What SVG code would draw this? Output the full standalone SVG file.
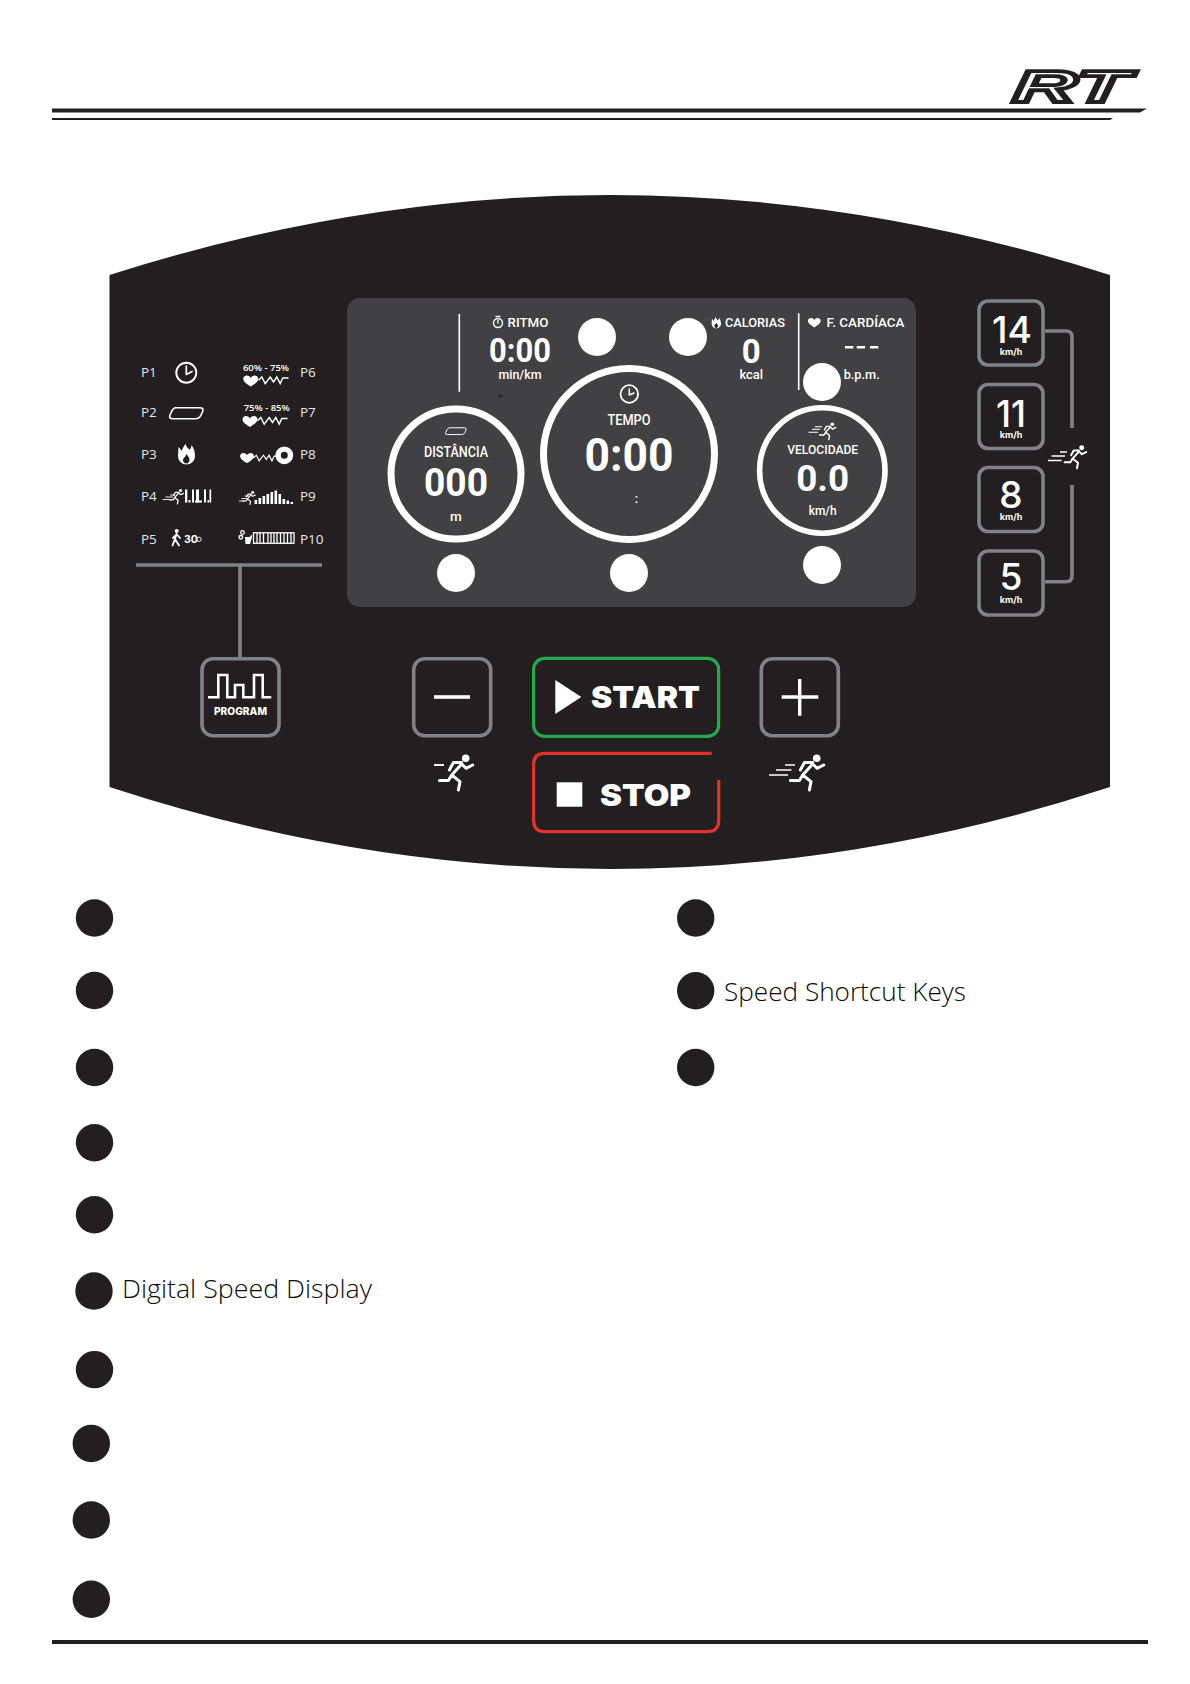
<svg xmlns="http://www.w3.org/2000/svg" width="1190" height="1684" viewBox="0 0 1190 1684">
<style>
text{font-family:"Roboto","Liberation Sans",sans-serif;fill:#fff;font-weight:500}
.m{text-anchor:middle}
.p{font-family:"Open Sans","Liberation Sans",sans-serif;font-size:13.5px;font-weight:400;fill:#e6e7e8}
.pc{font-family:"Open Sans","Liberation Sans",sans-serif;font-size:9.5px;font-weight:600;text-anchor:middle}
.lb{font-size:13.6px}
.un{font-size:13px}
.big{font-size:33px;font-weight:700}
.b{font-weight:700}
.g{font-family:"Inter","Liberation Sans",sans-serif}
.num{font-family:"Inter","Liberation Sans",sans-serif;font-size:37px;font-weight:500;text-anchor:middle}
.km{font-family:"Inter","Liberation Sans",sans-serif;font-size:9px;font-weight:700;text-anchor:middle}
.key{fill:#231f20;stroke:#808285;stroke-width:3.6}
.conn{fill:none;stroke:#808285;stroke-width:3.6}
.wl{fill:none;stroke:#fff;stroke-linecap:round;stroke-linejoin:round}
.ring{fill:none;stroke:#fff}
.badge{fill:#fff}
.bul{fill:#231f20}
.desc{font-family:"Open Sans","Liberation Sans",sans-serif;font-size:26.5px;font-weight:300;fill:#0c0a0b}
.ln{stroke:#fff;stroke-width:1.6}
.sp{stroke:#fff;fill:none}
.w{fill:#fff}
.d{fill:#231f20}
</style>
<defs>
<g id="runner" class="wl" stroke-width="3">
<circle cx="0" cy="0" r="3.8" fill="#fff" stroke="none"/>
<path d="M-16.3 11.7L-12.3 4.3H-4M-4 5.7L.3 10L7 6.7M-4 5.7L-14 16.7L-17.3 22.3H-26.3M-14 16.7L-5.7 23.3L-7.3 31.7"/>
</g>
<path id="heart" d="M0 5.5C-3 3.5-7.5 1-7.5-2C-7.5-4.5-5.5-5.5-4-5.5C-2-5.5-.8-4.5 0-3C.8-4.5 2-5.5 4-5.5C5.5-5.5 7.5-4.500 7.5-2C7.5 1 3 3.5 0 5.5Z" fill="#fff"/>
<g id="flame">
<path d="M-1-10.5C0-6 2-6 3-4C4-5 5-7 5-9C8-5 8.5-1 8.5 2C8.5 7 4 10.5 0 10.5C-4 10.5-8.5 7-8.5 2C-8.5-1-8-4-8-7C-6-5-5.5-4-5-3C-4-6-2-8-1-10.5Z" fill="#fff"/>
<path d="M0 0C1 2 3 3 3 6C3 8 1.5 9.5 0 9.5C-2 9.5-3.5 8-3.5 6C-3.5 4-1 3 0 0Z" fill="#231f20"/>
</g>
<path id="track" d="M7 .8H31Q35 .8 34 4.2L32 8.5Q30.5 11.7 27 11.7H4Q0 11.7 1 8.5L3 4.2Q4.5 .8 7 .8Z" fill="none" stroke="#fff" stroke-width="1.6"/>
<path id="pulse" d="M0 0L3.3-3.3L6.7 3.3L11.7-3.3L15 1.7L18.3-3.3L21.7 3.3L24.3-2.3H30" fill="none" stroke="#fff" stroke-width="1.4"/>
</defs>

<rect width="1190" height="1684" fill="#fff"/>

<g id="header">
<path d="M52 108.5H1147L1140 112.5H52Z" fill="#231f20"/>
<path d="M52 118H1113L1110 120H52Z" fill="#231f20"/>
<text transform="translate(1012 101.500) skewX(-6) scale(1.94 1)" font-size="45" style="font-family:'Liberation Sans',sans-serif;font-weight:700;font-style:italic;fill:#fff;stroke:#231f20;stroke-width:3.8">RT</text>
</g>

<path id="panel" d="M109.5 275Q610 115 1110 275V787Q610 951 109.5 787Z" fill="#231f20"/>

<g id="connectors">
<path class="conn" d="M136 565H322M240 565V657"/>
<path class="conn" d="M1045 331H1066Q1072 331 1072 337V428"/>
<path class="conn" d="M1072 485V575.7Q1072 581.7 1066 581.7H1045"/>
</g>

<g id="program-list">
<text class="p" x="141" y="377">P1</text>
<text class="p" x="141" y="417">P2</text>
<text class="p" x="141" y="459">P3</text>
<text class="p" x="141" y="501">P4</text>
<text class="p" x="141" y="544">P5</text>
<text class="p" x="300" y="377">P6</text>
<text class="p" x="300" y="417">P7</text>
<text class="p" x="300" y="459">P8</text>
<text class="p" x="300" y="501">P9</text>
<text class="p" x="300" y="544">P10</text>
<circle class="ring" cx="186.3" cy="372.7" r="10" stroke-width="1.9"/>
<path class="wl" stroke-width="1.7" d="M186.3 366V374.5L192 371.5"/>
<use href="#track" x="168.8" y="407"/>
<use href="#flame" transform="translate(186.5 454)"/>
<use href="#runner" transform="translate(180.500 490.500) scale(.42)"/>
<path class="sp" d="M170 495H175M165.500 497H173M162.500 499.500H170.500" stroke-width=".9"/>
<g class="w"><rect x="185" y="489.500" width="2.300" height="13"/><rect x="188.500" y="500" width="2" height="2.500"/><rect x="192" y="489.500" width="2" height="13"/><rect x="196" y="489.500" width="3" height="13"/><rect x="195" y="500.500" width="7" height="2"/><rect x="204" y="489.500" width="2" height="13"/><rect x="207.500" y="500" width="1.500" height="2.500"/><rect x="209.500" y="489.500" width="1.700" height="13"/></g>
<circle class="w" cx="176.700" cy="531" r="2"/>
<path class="wl" stroke-width="1.800" d="M176.500 534L175 539L172.500 545.500M175 539L179 545.500M176.500 534L180 538M176.500 534.500L173 538"/>
<text x="184" y="542.700" font-size="10.500" style="font-family:'Inter','Liberation Sans',sans-serif;font-weight:700">30</text>
<circle class="ring" cx="199" cy="539.300" r="2.200" stroke-width=".9"/>
<text class="pc" x="266" y="371">60% - 75%</text>
<use href="#heart" transform="translate(250.800 381)"/>
<use href="#pulse" x="258.500" y="380.300"/>
<text class="pc" x="266.700" y="411">75% - 85%</text>
<use href="#heart" transform="translate(250 421.500)"/>
<use href="#pulse" x="257.500" y="420.800"/>
<use href="#heart" transform="translate(247 458) scale(.92)"/>
<use href="#pulse" transform="translate(253.500 458) scale(.85)"/>
<circle class="ring" cx="284.300" cy="455.300" r="6.200" stroke-width="5.400"/>
<use href="#runner" transform="translate(252.700 492.500) scale(.38)"/>
<path class="sp" d="M244.500 496H249M241.500 498.500H246.500M239 501H244.500" stroke-width=".9"/>
<g class="w"><rect x="254.500" y="500" width="2.600" height="4"/><rect x="258.500" y="498" width="2.600" height="6"/><rect x="262.500" y="496" width="2.600" height="8"/><rect x="266.500" y="494" width="2.600" height="10"/><rect x="270.500" y="492" width="2.600" height="12"/><rect x="274.500" y="490.500" width="2.600" height="13.500"/><rect x="278.500" y="494" width="2.600" height="10"/><rect x="282.500" y="499" width="2.600" height="5"/><rect x="286.500" y="500.500" width="2.600" height="3.500"/><rect x="290.500" y="502" width="2.600" height="2"/></g>
<circle class="ring" cx="242.500" cy="532.500" r="1.800" stroke-width="1.300"/>
<circle class="ring" cx="240.800" cy="537.300" r="1.800" stroke-width="1.300"/>
<path class="w" d="M245 537H249.500L252 534.500V537L250 544H245.500Z"/>
<g class="sp" stroke-width="1.300"><rect x="253.500" y="532.800" width="40.500" height="10.500"/><path d="M257 533V543M260 533V543M263.500 533V543M268 533V543M271 533V543M274 533V543M277 533V543M280.500 533V543M284 533V543M287.500 533V543M291 533V543"/></g>
</g>

<g id="screen">
<rect x="347" y="298" width="569" height="309" rx="13" fill="#414042"/>
<path class="ln" d="M459.300 314V391.700M798.700 313.300V390"/>
<g id="ritmo">
<circle class="ring" cx="498" cy="323" r="4.500" stroke-width="1.400"/>
<path class="wl" stroke-width="1.300" d="M496 316.500H500M498 323V320"/>
<text class="lb" x="507.500" y="327.300" textLength="41" lengthAdjust="spacingAndGlyphs">RITMO</text>
<text class="big m" x="520" y="362.300" textLength="62" lengthAdjust="spacingAndGlyphs">0:00</text>
<text class="un m" x="520" y="379.300" textLength="43" lengthAdjust="spacingAndGlyphs">min/km</text>
<path d="M498 393.500L503 396.500L500 398Z" fill="#231f20"/>
</g>
<g id="calorias">
<use href="#flame" transform="translate(716.300 322.700) scale(.55)"/>
<text class="lb" x="725" y="327.300" textLength="60" lengthAdjust="spacingAndGlyphs">CALORIAS</text>
<text class="big m" x="751.300" y="362.700">0</text>
<text class="un m" x="751.300" y="379.300">kcal</text>
</g>
<g id="cardiaca">
<use href="#heart" transform="translate(814.300 322.800) scale(.85)"/>
<text class="lb" x="826.500" y="327.300" textLength="78" lengthAdjust="spacingAndGlyphs">F. CARDÍACA</text>
<path class="w" d="M845 346H853.300V348.500H845ZM856.700 346H865V348.500H856.700ZM870 346H878.300V348.500H870Z"/>
<text class="un" x="843.700" y="379.300" textLength="36" lengthAdjust="spacingAndGlyphs">b.p.m.</text>
</g>
<g id="distancia">
<circle class="ring" cx="456" cy="474" r="65" stroke-width="7"/>
<use href="#track" transform="translate(445 427.300) scale(.62)"/>
<text class="m" x="456" y="456.700" font-size="14" textLength="64" lengthAdjust="spacingAndGlyphs">DISTÂNCIA</text>
<text class="m b" x="456" y="495.700" font-size="39.500" textLength="64" lengthAdjust="spacingAndGlyphs">000</text>
<text class="m" x="456" y="520.700" font-size="13.500">m</text>
</g>
<g id="tempo">
<circle class="ring" cx="629" cy="454" r="85.500" stroke-width="7"/>
<circle class="ring" cx="629.300" cy="394" r="8.800" stroke-width="1.800"/>
<path class="wl" stroke-width="1.500" d="M629.300 389V395L634 393"/>
<text class="m" x="629" y="425" font-size="14" textLength="43" lengthAdjust="spacingAndGlyphs">TEMPO</text>
<text class="m b" x="629" y="471" font-size="47" textLength="89" lengthAdjust="spacingAndGlyphs">0:00</text>
<text class="m" x="636.500" y="503" font-size="13">:</text>
</g>
<g id="velocidade">
<circle class="ring" cx="822.300" cy="470.500" r="62.700" stroke-width="5.600"/>
<use href="#runner" transform="translate(832.300 424.300) scale(.48)"/>
<path class="sp" d="M815 426.700H822M812 429.300H820M808.500 432.300H818" stroke-width="1.100"/>
<text class="m" x="822.700" y="454" font-size="13.500" textLength="71" lengthAdjust="spacingAndGlyphs">VELOCIDADE</text>
<text class="m b" x="822.700" y="491" font-size="36.500" textLength="53" lengthAdjust="spacingAndGlyphs">0.0</text>
<text class="m" x="822.700" y="515" font-size="13.500" textLength="28" lengthAdjust="spacingAndGlyphs">km/h</text>
</g>
</g>

<g id="callouts-screen">
<circle class="badge" cx="597" cy="337" r="19"/>
<circle class="badge" cx="688" cy="337" r="19"/>
<circle class="badge" cx="822" cy="382" r="19"/>
<circle class="badge" cx="822" cy="565" r="19"/>
<circle class="badge" cx="456" cy="573" r="19"/>
<circle class="badge" cx="629" cy="573" r="19"/>
</g>

<g id="key-14"><rect class="key" x="979" y="301" width="64" height="64" rx="9"/><text class="num" x="1012" y="343.300" textLength="40" lengthAdjust="spacingAndGlyphs">14</text><text class="km" x="1011" y="355">km/h</text></g>
<g id="key-11"><rect class="key" x="979" y="384.500" width="64" height="64" rx="9"/><text class="num" x="1011" y="426.700" textLength="30" lengthAdjust="spacingAndGlyphs">11</text><text class="km" x="1011" y="438">km/h</text></g>
<g id="key-8"><rect class="key" x="979" y="467.500" width="64" height="64" rx="9"/><text class="num" x="1011" y="507.700">8</text><text class="km" x="1011" y="520">km/h</text></g>
<g id="key-5"><rect class="key" x="979" y="551" width="64" height="64" rx="9"/><text class="num" x="1011" y="590">5</text><text class="km" x="1011" y="602.700">km/h</text></g>
<g id="speed-icon">
<use href="#runner" transform="translate(1081.700 447.700) scale(.65)"/>
<path class="sp" stroke-width="1.500" d="M1060 452H1067M1051.500 456H1065M1048 460.500H1061.500"/>
</g>

<g id="key-program">
<rect class="key" x="202" y="658.700" width="77" height="77" rx="11"/>
<path class="sp" stroke-width="2.600" d="M208 697.300H218.300V675H227.300V697.300H235V685H243.300V697.300H254V675H262.700V697.300H271.300"/>
<text class="g m" x="240.500" y="714.700" font-size="10.300" textLength="53" lengthAdjust="spacingAndGlyphs" style="font-weight:800">PROGRAM</text>
</g>
<g id="key-minus">
<rect class="key" x="413.700" y="658.700" width="77" height="77" rx="11"/>
<rect class="w" x="434" y="695.200" width="36" height="3.600"/>
</g>
<g id="key-plus">
<rect class="key" x="761.300" y="658.700" width="77" height="77" rx="11"/>
<path class="sp" stroke-width="3.400" d="M781.700 697H818.300M799.700 679V715.700"/>
</g>
<g id="key-start">
<rect x="533.600" y="658.300" width="185" height="78" rx="11" fill="#231f20" stroke="#27a84f" stroke-width="3.200"/>
<path class="w" d="M555.300 680V714L581.300 697Z"/>
<text class="g" x="591" y="708" font-size="30" textLength="109" lengthAdjust="spacingAndGlyphs" style="font-weight:900">START</text>
</g>
<g id="key-stop">
<path d="M711.700 753.300H545Q533.600 753.300 533.600 764.700V820.300Q533.600 831.700 545 831.700H707.300Q718.700 831.700 718.700 820.300V780" fill="none" stroke="#e0322a" stroke-width="3.200"/>
<rect class="w" x="556.700" y="782.300" width="25.600" height="24.400"/>
<text class="g" x="600" y="805.700" font-size="30" textLength="91" lengthAdjust="spacingAndGlyphs" style="font-weight:900">STOP</text>
</g>
<g id="icon-slow">
<use href="#runner" transform="translate(465.700 758.300)"/>
<path class="sp" stroke-width="1.900" d="M434 765H444"/>
</g>
<g id="icon-fast">
<use href="#runner" transform="translate(816.700 758.300)"/>
<path class="sp" stroke-width="1.700" d="M785 765H795M776 770H791.500M769 775H788"/>
</g>

<g id="legend">
<circle class="bul" cx="94.500" cy="918" r="18.700"/>
<circle class="bul" cx="94.500" cy="990.500" r="18.700"/>
<circle class="bul" cx="94.500" cy="1067.500" r="18.700"/>
<circle class="bul" cx="94.500" cy="1142.700" r="18.700"/>
<circle class="bul" cx="94.500" cy="1214.700" r="18.700"/>
<circle class="bul" cx="94" cy="1291" r="18.700"/>
<circle class="bul" cx="94.500" cy="1369.600" r="18.700"/>
<circle class="bul" cx="91.300" cy="1443.500" r="18.700"/>
<circle class="bul" cx="91.300" cy="1520" r="18.700"/>
<circle class="bul" cx="91.300" cy="1599.300" r="18.700"/>
<circle class="bul" cx="695.700" cy="918" r="18.700"/>
<circle class="bul" cx="695.700" cy="990.700" r="18.700"/>
<circle class="bul" cx="695.700" cy="1067.500" r="18.700"/>
<text class="desc" x="122" y="1297.700" textLength="250" lengthAdjust="spacingAndGlyphs">Digital Speed Display</text>
<text class="desc" x="724" y="1000.700" textLength="242" lengthAdjust="spacingAndGlyphs">Speed Shortcut Keys</text>
</g>

<rect id="footer-line" x="52" y="1640" width="1096" height="4" fill="#231f20"/>
</svg>
